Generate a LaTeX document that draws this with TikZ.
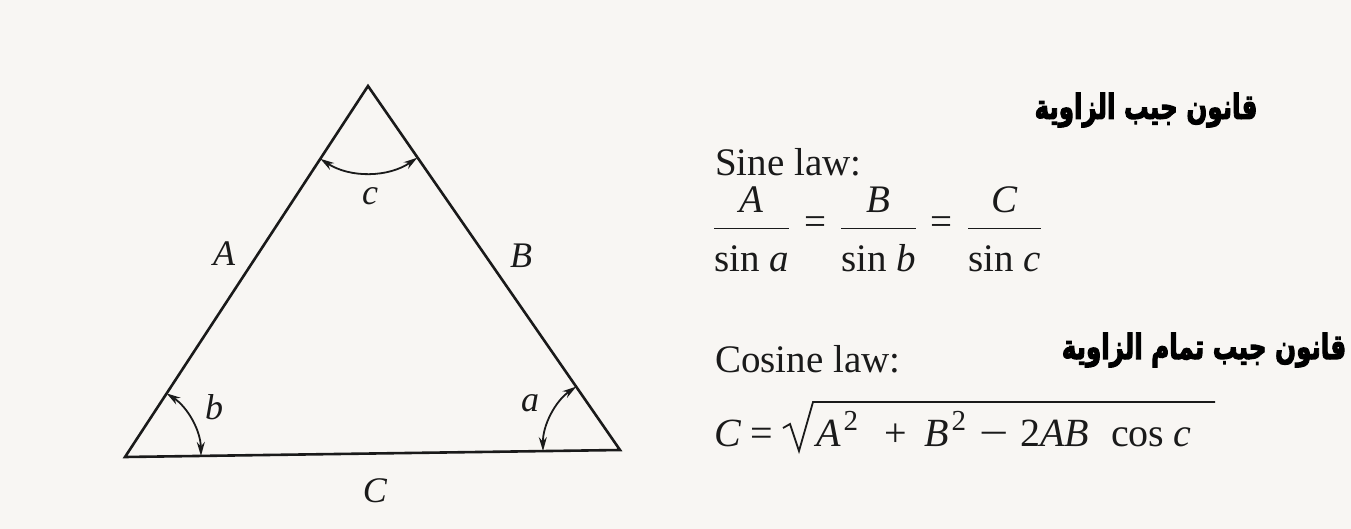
\documentclass[tikz,border=0pt]{standalone}
\usepackage{amsmath}
\usepackage{fontspec}
\setmainfont{Liberation Serif}
\newfontfamily\arabicfont[Script=Arabic,FakeBold=3.5]{DejaVu Sans}
\TeXXeTstate=1
\usetikzlibrary{arrows.meta}
\definecolor{paper}{HTML}{F8F6F3}
\definecolor{ink}{HTML}{1A1A1A}
\newcommand{\eqs}{\mskip5mu\mathrel{\text{=}}\mskip5mu}
\newcommand{\numr}[1]{\textit{#1}\rule[-0.33em]{0pt}{0pt}}
\newcommand{\denr}[1]{\rule{0pt}{1.0em}\text{sin }\textit{#1}}
\newcommand{\supt}{\kern3pt\raisebox{0.4em}{\fontsize{29}{32}\selectfont\upshape 2}}
\begin{document}
\begin{tikzpicture}[x=1pt,y=-1pt,
  edge/.style={draw=ink,line width=2.6pt,line join=miter},
  anglearc/.style={draw=ink,line width=1.8pt,{Stealth[length=14pt,width=8pt]}-{Stealth[length=14pt,width=8pt]}},
  lbl/.style={font=\fontsize{36}{42}\selectfont\itshape,text=ink,inner sep=0pt},
  txt/.style={font=\fontsize{39}{46}\selectfont,text=ink,inner sep=0pt,anchor=base west},
  ftxt/.style={font=\fontsize{40}{46}\selectfont,text=ink,inner sep=0pt,anchor=base west},
  radical/.style={draw=ink,line width=1.8pt,line join=miter},
  ar/.style={font=\fontsize{30}{36}\selectfont\arabicfont\bfseries,text=black,inner sep=0pt,xscale=0.82,yscale=1.15}]
\fill[paper] (0,0) rectangle (1351,529);
\useasboundingbox (0,0) rectangle (1351,529);
% vertices
\coordinate (T) at (368,86);
\coordinate (L) at (125,457);
\coordinate (R) at (620,450);
\draw[edge] (T) -- (L) -- (R) -- cycle;
% angle arcs
\draw[anglearc] (T) ++(123.2:87) arc[start angle=123.2,end angle=55.4,radius=87];
\draw[anglearc] (L) ++(-56.8:76) arc[start angle=-56.8,end angle=-0.8,radius=76];
\draw[anglearc] (R) ++(179.2:77) arc[start angle=179.2,end angle=235.4,radius=77];
% labels
\node[lbl] (lc) at (370,196) {c};
\node[lbl] (lA) at (224,254) {A};
\node[lbl] (lB) at (521,256) {B};
\node[lbl] (lb) at (214,407) {b};
\node[lbl] (la) at (530,403) {a};
\node[lbl] (lC) at (375,491) {C};
% sine law
\node[txt] (sine) at (715,176) {Sine law:};
\node[txt] (sineeq) at (713,235) {$\displaystyle\frac{\numr{A}}{\denr{a}}\eqs\frac{\numr{B}}{\denr{b}}\eqs\frac{\numr{C}}{\denr{c}}$};
% cosine law
\node[txt] (cosine) at (715,372) {Cosine law:};
\node[ftxt] (cC) at (714,446) {\itshape C};
\node[ftxt] (ceq) at (750,446) {=};
\node[ftxt] (cA) at (816,446) {\itshape A\supt};
\node[ftxt] (cplus) at (884,446) {+};
\node[ftxt] (cB) at (924,446) {\itshape B\supt};
\node[ftxt,xscale=1.3] (cminus) at (979,446) {−};
\node[ftxt] (c2AB) at (1020,446) {2\itshape AB};
\node[ftxt] (ccos) at (1111,446) {cos};
\node[ftxt] (cc) at (1173,446) {\itshape c};
\coordinate (rs) at (783,428);
\coordinate (rt) at (813,402);
\coordinate (re) at (1215,402);
\draw[radical] (rs) -- ++(7,-4) -- (799,451) -- (rt) -- (re);
% arabic
\node[ar] (ar1) at (1146,110) {\beginR قانون جيب الزاوية\endR};
\node[ar] (ar2) at (1204,350) {\beginR قانون جيب تمام الزاوية\endR};
\end{tikzpicture}
\end{document}
